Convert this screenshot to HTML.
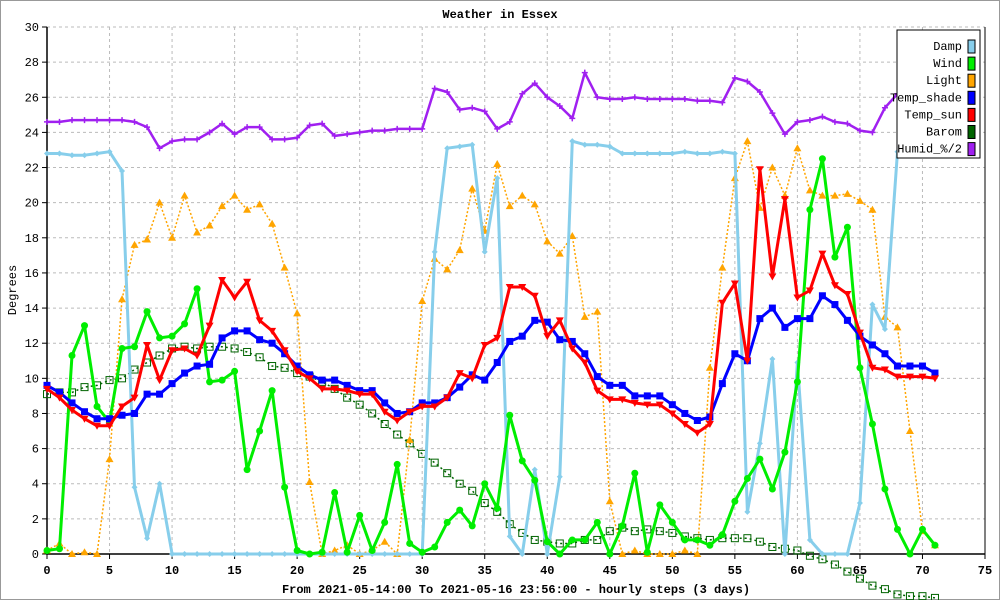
<!DOCTYPE html>
<html><head><meta charset="utf-8"><style>
html,body{margin:0;padding:0;background:#fff}
svg{display:block}
text{font-family:"Liberation Mono",monospace;font-size:12px;fill:#000}
</style></head><body>
<svg id="chart" width="1000" height="600" xmlns="http://www.w3.org/2000/svg">
<rect x="0.5" y="0.5" width="999" height="599" fill="#fff" stroke="#999"/>
<text x="500" y="18" text-anchor="middle" font-weight="bold">Weather in Essex</text>
<text transform="translate(16,290) rotate(-90)" text-anchor="middle" font-size="11">Degrees</text>
<text x="516" y="593" text-anchor="middle" font-weight="bold" font-size="11">From 2021-05-14:00 To 2021-05-16 23:56:00 - hourly steps (3 days)</text>
<g id="grid"></g><g id="axes"></g><g id="series"></g><g id="legend"></g>
</svg>
<script>
const xTicks=[0,5,10,15,20,25,30,35,40,45,50,55,60,65,70,75];
const yTicks=[0,2,4,6,8,10,12,14,16,18,20,22,24,26,28,30];
const seriesNames=["Damp","Wind","Light","Temp_shade","Temp_sun","Barom","Humid_%/2"];
const damp=[22.8,22.8,22.7,22.7,22.8,22.9,21.8,3.8,0.9,4.0,0,0,0,0,0,0,0,0,0,0,0,0,0,0,0,0,0,0,0,0,0,17.2,23.1,23.2,23.3,17.2,21.4,1.0,0,4.8,0,4.4,23.5,23.3,23.3,23.2,22.8,22.8,22.8,22.8,22.8,22.9,22.8,22.8,22.9,22.8,2.4,6.3,11.1,0,10.9,0.8,0,0,0,2.9,14.2,12.8,22.9,23.5,23.5,23.5];
const wind=[0.2,0.3,11.3,13.0,8.4,7.5,11.7,11.8,13.8,12.3,12.4,13.1,15.1,9.8,9.9,10.4,4.8,7.0,9.3,3.8,0.2,0,0.1,3.5,0.1,2.2,0.2,1.8,5.1,0.6,0.1,0.4,1.8,2.5,1.6,4.0,2.6,7.9,5.3,4.2,0.7,0,0.8,0.8,1.8,0,1.6,4.6,0.1,2.8,1.8,0.8,0.8,0.5,1.1,3.0,4.3,5.4,3.7,5.8,9.8,19.6,22.5,16.9,18.6,10.6,7.4,3.7,1.4,0,1.4,0.5];
const light=[0.2,0.6,0,0.1,0,5.4,14.5,17.6,17.9,20.0,18.0,20.4,18.3,18.7,19.8,20.4,19.6,19.9,18.8,16.3,13.7,4.1,0,0.2,0.5,0,0.2,0.7,0,6.5,14.4,16.8,16.2,17.3,20.8,18.4,22.2,19.8,20.4,19.9,17.8,17.1,18.1,13.5,13.8,3.0,0,0.2,0,0,0,0.2,0,10.6,16.3,21.4,23.5,19.7,22.0,20.4,23.1,20.7,20.4,20.4,20.5,20.1,19.6,13.5,12.9,7.0,1.3,0.5];
const tempShade=[9.6,9.2,8.6,8.1,7.7,7.7,7.9,8.0,9.1,9.1,9.7,10.3,10.7,10.8,12.3,12.7,12.7,12.2,12.0,11.4,10.7,10.2,9.9,9.9,9.6,9.3,9.3,8.6,8.0,8.1,8.6,8.6,8.9,9.5,10.2,9.9,10.9,12.1,12.4,13.3,13.2,12.2,12.1,11.4,10.1,9.6,9.6,9.0,9.0,9.0,8.5,8.0,7.6,7.8,9.7,11.4,11.0,13.4,14.0,12.9,13.4,13.4,14.7,14.2,13.3,12.4,11.9,11.4,10.7,10.7,10.7,10.3];
const tempSun=[9.4,8.9,8.2,7.7,7.3,7.3,8.4,8.9,11.9,9.9,11.6,11.7,11.3,13.0,15.6,14.6,15.5,13.3,12.7,11.6,10.4,10.0,9.4,9.4,9.3,9.1,9.1,8.1,7.6,8.1,8.4,8.4,8.9,10.3,10.0,11.9,12.3,15.2,15.2,14.7,12.4,13.3,11.7,10.9,9.3,8.8,8.8,8.6,8.5,8.5,8.0,7.4,6.9,7.4,14.3,15.4,11.0,21.9,15.8,20.2,14.6,15.0,17.1,15.3,14.8,12.6,10.6,10.5,10.1,10.1,10.1,10.0];
const barom=[9.1,9.2,9.2,9.5,9.6,9.9,10.0,10.5,10.9,11.3,11.7,11.8,11.7,11.8,11.8,11.7,11.5,11.2,10.7,10.6,10.3,10.1,9.8,9.4,8.9,8.5,8.0,7.4,6.8,6.3,5.7,5.2,4.6,4.0,3.6,2.9,2.4,1.7,1.2,0.8,0.7,0.6,0.6,0.8,0.8,1.3,1.5,1.3,1.4,1.3,1.2,1.0,0.9,0.8,0.9,0.9,0.9,0.7,0.4,0.3,0.2,-0.1,-0.3,-0.6,-1.0,-1.4,-1.8,-2.0,-2.3,-2.4,-2.4,-2.5];
const humid=[24.6,24.6,24.7,24.7,24.7,24.7,24.7,24.6,24.3,23.1,23.5,23.6,23.6,24.0,24.5,23.9,24.3,24.3,23.6,23.6,23.7,24.4,24.5,23.8,23.9,24.0,24.1,24.1,24.2,24.2,24.2,26.5,26.3,25.3,25.4,25.2,24.2,24.6,26.2,26.8,26.0,25.5,24.8,27.4,26.0,25.9,25.9,26.0,25.9,25.9,25.9,25.9,25.8,25.8,25.7,27.1,26.9,26.3,25.1,23.9,24.6,24.7,24.9,24.6,24.5,24.1,24.0,25.4,26.2,27.0,27.5,27.5];

const NS="http://www.w3.org/2000/svg";
const X0=47,X1=985,Y0=554,Y1=27;
function xs(v){return X0+(v-0)/(75-0)*(X1-X0);}
function ys(v){return Y0-(v-0)/(30-0)*(Y0-Y1);}
function mk(tag,attrs,parent){const e=document.createElementNS(NS,tag);for(const k in attrs)e.setAttribute(k,attrs[k]);parent.appendChild(e);return e;}
const grid=document.getElementById('grid'),axes=document.getElementById('axes'),ser=document.getElementById('series'),leg=document.getElementById('legend');
xTicks.forEach(t=>{
  if(t>0){const g=mk('line',{x1:xs(t),x2:xs(t),y1:Y1,y2:Y0,stroke:'#bbb','stroke-dasharray':'3,3'},grid);
  
  }
  const tk=mk('line',{x1:xs(t),x2:xs(t),y1:Y0,y2:Y0+5,stroke:'#000'},axes);
  
  
  const l=mk('text',{x:xs(t),y:Y0+20,'text-anchor':'middle','font-weight':'bold'},axes);l.textContent=t;
  
  
});
yTicks.forEach(t=>{
  if(t>0){const g=mk('line',{x1:X0,x2:X1,y1:ys(t),y2:ys(t),stroke:'#bbb','stroke-dasharray':'3,3'},grid);
  
  }
  const tk=mk('line',{x1:X0-5,x2:X0,y1:ys(t),y2:ys(t),stroke:'#000'},axes);
  
  
  const l=mk('text',{x:X0-8,y:ys(t)+4,'text-anchor':'end','font-size':'11'},axes);l.textContent=t;
  
  
});
const ax=mk('path',{d:`M${X0},${Y1}V${Y0}H${X1}`,stroke:'#000','stroke-width':1.5,fill:'none'},axes);


const rax=mk('line',{x1:X1,x2:X1,y1:Y1,y2:Y0,stroke:'#000'},axes);



function marker(type,x,y,color,g){
  let e;
  if(type==='circle')e=mk('circle',{cx:x,cy:y,r:3.5,fill:color},g);
  else if(type==='up')e=mk('polygon',{points:`${x},${y-4} ${x-4},${y+3} ${x+4},${y+3}`,fill:color},g);
  else if(type==='down')e=mk('polygon',{points:`${x-4},${y-3} ${x+4},${y-3} ${x},${y+4}`,fill:color},g);
  else if(type==='square')e=mk('rect',{x:x-3.5,y:y-3.5,width:7,height:7,fill:color},g);
  else if(type==='osquare')e=mk('rect',{x:x-3.5,y:y-3.5,width:7,height:7,fill:'none',stroke:color,'stroke-width':1},g);
  else if(type==='diamond')e=mk('polygon',{points:`${x},${y-3} ${x+3},${y} ${x},${y+3} ${x-3},${y}`,fill:color},g);
  else if(type==='cross')e=mk('path',{d:`M${x-3},${y}H${x+3}M${x},${y-3}V${y+3}`,stroke:color,'stroke-width':1.5,fill:'none'},g);
  return e;
}
const defs=[
 {name:'barom',data:barom,color:'#006400',w:1.5,dash:'2,3',m:'osquare'},
 {name:'light',data:light,color:'#FFA500',w:1.5,dash:'2,2',m:'up'},
 {name:'damp',data:damp,color:'#87CEEB',w:3,dash:null,m:'diamond'},
 {name:'humid',data:humid,color:'#A020F0',w:2.5,dash:null,m:'cross'},
 {name:'wind',data:wind,color:'#00EE00',w:3,dash:null,m:'circle'},
 {name:'temp-shade',data:tempShade,color:'#0000FF',w:3,dash:null,m:'square'},
 {name:'temp-sun',data:tempSun,color:'#FF0000',w:3,dash:null,m:'down'}
];
defs.forEach(s=>{
  const g=mk('g',{},ser);
  
  
  const d=s.data.map((v,i)=>(i?'L':'M')+xs(i).toFixed(1)+','+ys(v).toFixed(1)).join('');
  const p=mk('path',{d:d,stroke:s.color,'stroke-width':s.w,fill:'none','stroke-linejoin':'round'},g);
  if(s.dash)p.setAttribute('stroke-dasharray',s.dash);
  
  
  s.data.forEach((v,i)=>{
    const m=marker(s.m,xs(i),ys(v),s.color,g);
    
    
  });
});
// legend
const legColors=['#87CEEB','#00EE00','#FFA500','#0000FF','#FF0000','#006400','#A020F0'];
const lb=mk('rect',{x:897,y:30,width:83,height:128,fill:'#fff',stroke:'#000'},leg);


seriesNames.forEach((n,i)=>{
  const y=46+i*17.1;
  const t=mk('text',{x:962,y:y+4,'text-anchor':'end','font-size':'11'},leg);t.textContent=n;
  
  
  const r=mk('rect',{x:968,y:y-6,width:7,height:13,fill:legColors[i],stroke:'#000'},leg);
  
  
});
</script>
</body></html>
